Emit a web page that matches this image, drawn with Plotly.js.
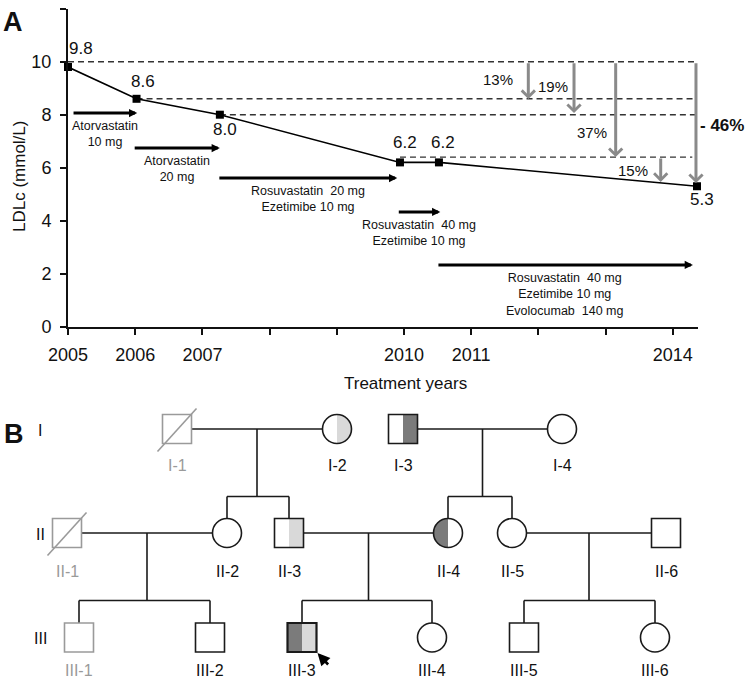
<!DOCTYPE html>
<html><head><meta charset="utf-8">
<script src="https://cdn.plot.ly/plotly-3.0.1.min.js"></script>
<style>body{margin:0;background:#fff}#chart{width:745px;height:683px}</style>
</head><body><div id="chart"></div>
<script>
// ---------------- Panel A data ----------------
const years = [2005.0, 2006.02, 2007.26, 2009.94, 2010.52, 2014.36];
const ldlc = [9.8, 8.6, 8.0, 6.2, 6.2, 5.3];
const tickYears = [2005, 2006, 2007, 2008, 2009, 2010, 2011, 2012, 2013, 2014];
const tickLabels = ['2005', '2006', '2007', '', '', '2010', '2011', '', '', '2014'];
const yTicks = [0, 2, 4, 6, 8, 10, 12];

// dashed reference levels
const refLevels = [10.0, 8.6, 8.0, 6.4];
const refStart = [2005.0, 2006.02, 2007.26, 2009.94];
const refEnd = [2014.33, 2014.33, 2014.33, 2014.29];

// reduction arrows
const dropX = [2011.85, 2012.53, 2013.15, 2013.82, 2014.345];
const dropFrom = [10.0, 10.0, 10.0, 6.4, 10.0];
const dropTo = [8.59, 8.06, 6.40, 5.46, 5.42];
const dropText = ['13%', '19%', '37%', '15%', '- 46%'];
const dropTextX = [2011.40, 2012.22, 2012.80, 2013.41, 2014.345];
const dropTextY = [9.31, 9.05, 7.31, 5.91, 7.61];

// treatment periods
const treatStart = [2005.06, 2005.97, 2007.23, 2009.90, 2010.49];
const treatEnd = [2006.03, 2007.26, 2009.90, 2010.54, 2014.30];
const treatLevel = [8.06, 6.74, 5.61, 4.33, 2.33];
const treatText = [
  'Atorvastatin<br>10 mg',
  'Atorvastatin<br>20 mg',
  'Rosuvastatin\u00a0 20 mg<br>Ezetimibe 10 mg',
  'Rosuvastatin\u00a0 40 mg<br>Ezetimibe 10 mg',
  'Rosuvastatin\u00a0 40 mg<br>Ezetimibe 10 mg<br>Evolocumab\u00a0 140 mg'
];

// ---------------- Panel B data (pedigree) ----------------
const pedId = ['I-1','I-2','I-3','I-4','II-1','II-2','II-3','II-4','II-5','II-6','III-1','III-2','III-3','III-4','III-5','III-6'];
const pedSex = ['M','F','M','F','M','F','M','F','F','M','M','M','M','F','M','F'];
const pedDeceased = [1,0,0,0,1,0,0,0,0,0,0,0,0,0,0,0];
const pedNotTested = [1,0,0,0,1,0,0,0,0,0,1,0,0,0,0,0];
const pedLeftFill = ['','','','','','','','dark','','','','','dark','','',''];
const pedRightFill = ['','light','dark','','','','light','','','','','','light','','',''];
const proband = 'III-3';
const generations = ['I', 'II', 'III'];
const couples = [['I-1','I-2'], ['I-3','I-4'], ['II-1','II-2'], ['II-3','II-4'], ['II-5','II-6']];
const offspring = [['II-2','II-3'], ['II-4','II-5'], ['III-1','III-2'], ['III-3','III-4'], ['III-5','III-6']];

// ---------------- layout / styling (not data) ----------------
const pedCol = {'I-1':177,'I-2':337,'I-3':403,'I-4':562,'II-1':67,'II-2':227,'II-3':289,'II-4':448,'II-5':512,'II-6':666,
  'III-1':79,'III-2':210,'III-3':302,'III-4':432,'III-5':524,'III-6':655};
const genRowY = {'I':429, 'II':533, 'III':637.5};
const genLabelY = {'I':465, 'II':571, 'III':670};
const SYM = 14.5, SIB_DROP = 67.5, GEN_LABEL_X = 40;
const FILL = {dark:'#7b7b7b', light:'#d9d9d9'};
const INK = '#1a1a1a', GREYINK = '#9a9a9a', ARROWGREY = '#8a8a8a';
const FONT = 'Liberation Sans, Arial, sans-serif';

const labelShift = [[13, 19], [6, 17], [5, -15], [5, 20], [4, 20], [5, -13]];
const dropShift = [0, 0, 0, 0, 26];

const shapes = [];
const annotations = [];

// dashed reference lines
refLevels.forEach((lv, i) => {
  shapes.push({type:'line', xref:'x', yref:'y', x0:refStart[i], x1:refEnd[i], y0:lv, y1:lv,
    line:{color:'#333', width:1.4, dash:'6px,4px'}, layer:'below'});
});

// reduction arrows + labels
dropX.forEach((x, i) => {
  annotations.push({x:x, y:dropTo[i], ax:x, ay:dropFrom[i], xref:'x', yref:'y', axref:'x', ayref:'y',
    text:'', showarrow:true, arrowhead:4, arrowsize:0.85, arrowwidth:3, arrowcolor:ARROWGREY, standoff:0});
  const last = i === dropX.length - 1;
  annotations.push({x:dropTextX[i], y:dropTextY[i], xref:'x', yref:'y', xshift:dropShift[i],
    xanchor:'center', yanchor:'middle',
    text: last ? '<b>' + dropText[i] + '</b>' : dropText[i],
    showarrow:false, font:{family:FONT, size: last ? 17 : 15, color:'#111'}});
});

// treatment arrows + labels
treatStart.forEach((s, i) => {
  annotations.push({x:treatEnd[i], y:treatLevel[i], ax:s, ay:treatLevel[i], xref:'x', yref:'y', axref:'x', ayref:'y',
    text:'', showarrow:true, arrowhead:2, arrowsize:0.55, arrowwidth:3, arrowcolor:'#000', standoff:0});
  annotations.push({x:(s + treatEnd[i]) / 2, y:treatLevel[i], xref:'x', yref:'y', xanchor:'center', yanchor:'top', yshift:-4,
    text:treatText[i], showarrow:false, align:'center', font:{family:FONT, size:12.5, color:'#111'}});
});

// data value labels
years.forEach((x, i) => {
  annotations.push({x:x, y:ldlc[i], xref:'x', yref:'y', text:ldlc[i].toFixed(1), showarrow:false,
    xanchor:'center', yanchor:'middle',
    xshift:labelShift[i][0], yshift:labelShift[i][1], font:{family:FONT, size:17, color:'#111'}});
});

// axis titles + panel letters
const paperText = (px, py, text, size, extra) => annotations.push(Object.assign({xref:'paper', yref:'paper',
  x:px/745, y:1 - py/683, xanchor:'center', yanchor:'middle', text, showarrow:false,
  font:{family:FONT, size, color:'#111'}}, extra || {}));
paperText(20, 177, 'LDLc (mmol/L)', 17, {textangle:-90});
paperText(405, 383, 'Treatment years', 17);
paperText(13, 22, '<b>A</b>', 27);
paperText(14, 434, '<b>B</b>', 27);

// ---------------- pedigree drawing ----------------
function genOf(id) { return id.split('-')[0]; }
function posOf(id) { return {x: pedCol[id], y: genRowY[genOf(id)]}; }
function halfCircle(cx, cy, r, side) {
  const n = 28, sg = side === 'right' ? 1 : -1;
  let p = '';
  for (let k = 0; k <= n; k++) {
    const t = -Math.PI / 2 + Math.PI * k / n;
    const x = cx + sg * r * Math.cos(t), y = cy + r * Math.sin(t);
    p += (k === 0 ? 'M' : 'L') + x.toFixed(2) + ',' + y.toFixed(2);
  }
  return p + 'Z';
}
const ref2 = {xref:'x2', yref:'y2'};
const pline = (x0, y0, x1, y1, color, w) => shapes.push(Object.assign({type:'line', x0, y0, x1, y1, line:{color, width:w}}, ref2));

// couples and offspring connections
couples.forEach((c, i) => {
  const a = posOf(c[0]), b = posOf(c[1]);
  pline(a.x + SYM, a.y, b.x - SYM, b.y, INK, 1.6);
  const mx = (a.x + b.x) / 2, sibY = a.y + SIB_DROP;
  pline(mx, a.y, mx, sibY, INK, 1.6);
  const kids = offspring[i].map(posOf);
  const xs = kids.map(k => k.x);
  pline(Math.min(...xs), sibY, Math.max(...xs), sibY, INK, 1.6);
  kids.forEach(k => pline(k.x, sibY, k.x, k.y - SYM, INK, 1.6));
});

// individuals
pedId.forEach((id, i) => {
  const p = posOf(id);
  const col = pedNotTested[i] ? GREYINK : INK;
  const w = id === proband ? 2.2 : 1.6;
  if (pedSex[i] === 'M') {
    if (pedLeftFill[i]) shapes.push(Object.assign({type:'rect', x0:p.x - SYM, x1:p.x, y0:p.y - SYM, y1:p.y + SYM,
      fillcolor:FILL[pedLeftFill[i]], line:{width:0}}, ref2));
    if (pedRightFill[i]) shapes.push(Object.assign({type:'rect', x0:p.x, x1:p.x + SYM, y0:p.y - SYM, y1:p.y + SYM,
      fillcolor:FILL[pedRightFill[i]], line:{width:0}}, ref2));
    shapes.push(Object.assign({type:'rect', x0:p.x - SYM, x1:p.x + SYM, y0:p.y - SYM, y1:p.y + SYM,
      fillcolor:'rgba(0,0,0,0)', line:{color:col, width:w}}, ref2));
  } else {
    if (pedLeftFill[i]) shapes.push(Object.assign({type:'path', path:halfCircle(p.x, p.y, SYM, 'left'),
      fillcolor:FILL[pedLeftFill[i]], line:{width:0}}, ref2));
    if (pedRightFill[i]) shapes.push(Object.assign({type:'path', path:halfCircle(p.x, p.y, SYM, 'right'),
      fillcolor:FILL[pedRightFill[i]], line:{width:0}}, ref2));
    shapes.push(Object.assign({type:'circle', x0:p.x - SYM, x1:p.x + SYM, y0:p.y - SYM, y1:p.y + SYM,
      fillcolor:'rgba(0,0,0,0)', line:{color:col, width:w}}, ref2));
  }
  if (pedDeceased[i]) pline(p.x - SYM - 5, p.y + SYM + 8, p.x + SYM + 5, p.y - SYM - 6, col, 1.6);
  annotations.push(Object.assign({x:p.x, y:genLabelY[genOf(id)], text:id, showarrow:false,
    xanchor:'center', yanchor:'middle', borderpad:0,
    font:{family:FONT, size:16, color: pedNotTested[i] ? GREYINK : '#111'}}, ref2));
  if (id === proband) {
    annotations.push(Object.assign({x:p.x + SYM + 1, y:p.y + SYM + 1, ax:p.x + SYM + 13, ay:p.y + SYM + 14,
      axref:'x2', ayref:'y2', text:'', showarrow:true, arrowhead:2, arrowsize:0.95, arrowwidth:2.6, arrowcolor:'#000', standoff:0}, ref2));
  }
});

generations.forEach(g => {
  annotations.push(Object.assign({x:GEN_LABEL_X, y:genRowY[g] + 1, text:g, showarrow:false,
    xanchor:'center', yanchor:'middle', font:{family:FONT, size:16, color:'#111'}}, ref2));
});

// ---------------- traces & layout ----------------
const traces = [{
  x: years, y: ldlc, type:'scatter', mode:'lines+markers', xaxis:'x', yaxis:'y', cliponaxis:false,
  line:{color:'#000', width:1.6}, marker:{symbol:'square', size:8, color:'#000'}, hoverinfo:'skip'
}];

const layout = {
  width:745, height:683, margin:{l:0, r:0, t:0, b:0}, showlegend:false,
  paper_bgcolor:'#fff', plot_bgcolor:'rgba(0,0,0,0)',
  font:{family:FONT, color:'#111'},
  xaxis:{domain:[68/745, 698/745], range:[2005, 2014.375], anchor:'y',
    tickmode:'array', tickvals:tickYears, ticktext:tickLabels,
    showline:true, linewidth:2, linecolor:'#111', ticks:'outside', ticklen:6, tickwidth:2, tickcolor:'#111',
    showgrid:false, zeroline:false, tickfont:{family:FONT, size:18, color:'#111'}, ticklabelstandoff:5},
  yaxis:{domain:[1 - 326.7/683, 1 - 8.7/683], range:[0, 12], anchor:'x',
    tickmode:'array', tickvals:yTicks,
    showline:true, linewidth:2, linecolor:'#111', ticks:'outside', ticklen:6, tickwidth:2, tickcolor:'#111',
    showgrid:false, zeroline:false, tickfont:{family:FONT, size:18, color:'#111'}, ticklabelstandoff:5},
  xaxis2:{domain:[0, 1], range:[0, 745], anchor:'y2', visible:false, fixedrange:true},
  yaxis2:{domain:[0, 1], range:[683, 0], anchor:'x2', visible:false, fixedrange:true},
  shapes: shapes,
  annotations: annotations
};

Plotly.newPlot('chart', traces, layout, {staticPlot:true, displayModeBar:false});
</script>
</body></html>
